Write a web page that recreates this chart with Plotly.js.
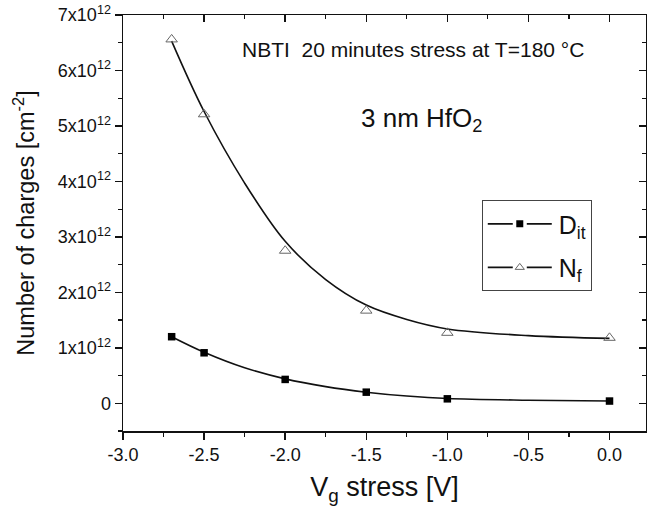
<!DOCTYPE html>
<html>
<head>
<meta charset="utf-8">
<script src="https://cdn.plot.ly/plotly-3.0.1.min.js"></script>
<style>html,body{margin:0;padding:0;background:#fff;}#chart{width:647px;height:510px;}</style>
</head>
<body>
<div id="chart"></div>
<script>
// Measured points
const vg = [-2.7, -2.5, -2.0, -1.5, -1.0, 0.0];
const dit = [1.20e12, 0.91e12, 0.43e12, 0.20e12, 0.08e12, 0.04e12];
const nf = [6.56e12, 5.21e12, 2.75e12, 1.67e12, 1.27e12, 1.18e12];

// Fitted curves
const fitX = [-2.7, -2.5, -2.25, -2.0, -1.75, -1.5, -1.25, -1.0, -0.5, 0.0];
const ditFit = [1.20e12, 0.92e12, 0.64e12, 0.44e12, 0.30e12, 0.20e12, 0.13e12, 0.085e12, 0.055e12, 0.04e12];
const nfFit = [6.53e12, 5.26e12, 3.97e12, 2.92e12, 2.23e12, 1.77e12, 1.51e12, 1.34e12, 1.22e12, 1.17e12];

// Tick labels
const xTickVals = [-3.0, -2.5, -2.0, -1.5, -1.0, -0.5, 0.0];
const xTickText = ['-3.0', '-2.5', '-2.0', '-1.5', '-1.0', '-0.5', '0.0'];
const yTickVals = [0, 1e12, 2e12, 3e12, 4e12, 5e12, 6e12, 7e12];
const yTickText = ['0', '1x10<sup>12</sup>', '2x10<sup>12</sup>', '3x10<sup>12</sup>', '4x10<sup>12</sup>', '5x10<sup>12</sup>', '6x10<sup>12</sup>', '7x10<sup>12</sup>'];

const seriesNames = ['D<sub>it</sub>', 'N<sub>f</sub>'];

const FONT = 'Arial, "Liberation Sans", sans-serif';
const xRange = [-3.0, 0.225];
const yRange = [-0.5e12, 7e12];

const traces = [
  {x: fitX, y: ditFit, mode: 'lines', line: {color: '#111', width: 1.6, shape: 'spline', smoothing: 1}, showlegend: false, hoverinfo: 'skip'},
  {x: fitX, y: nfFit, mode: 'lines', line: {color: '#111', width: 1.6, shape: 'spline', smoothing: 1}, showlegend: false, hoverinfo: 'skip'},
  {x: vg, y: dit, mode: 'markers', marker: {symbol: 'square', size: 7.5, color: '#000'}, showlegend: false},
  {x: vg, y: nf, mode: 'markers', marker: {symbol: 'triangle-up-open', size: 10, color: '#666', line: {width: 1}}, showlegend: false},
  {x: [null], y: [null], mode: 'lines+markers', name: seriesNames[0], legendgroup: 'a', line: {color: '#111', width: 1.6}, marker: {symbol: 'square', size: 7, color: '#000'}},
  {x: [null], y: [null], mode: 'lines+markers', name: seriesNames[1], legendgroup: 'b', line: {color: '#111', width: 1.6}, marker: {symbol: 'triangle-up-open', size: 8, color: '#666', line: {width: 1}}},
  {x: [null], y: [null], xaxis: 'x2', yaxis: 'y2', mode: 'markers', showlegend: false, hoverinfo: 'skip'}
];

const layout = {
  width: 647, height: 510,
  margin: {l: 123, r: 1, t: 15, b: 79},
  paper_bgcolor: '#fff', plot_bgcolor: '#fff',
  font: {family: FONT, color: '#111'},
  showlegend: true,
  legend: {
    x: 0.686, y: 0.555, xanchor: 'left', yanchor: 'top',
    bordercolor: '#444', borderwidth: 1, bgcolor: 'rgba(255,255,255,0)',
    font: {family: FONT, size: 25, color: '#111'},
    itemwidth: 66, tracegroupgap: 8
  },
  xaxis: {
    range: xRange, tickmode: 'array', tickvals: xTickVals, ticktext: xTickText,
    showgrid: false, zeroline: false, showline: true, linecolor: '#111', linewidth: 1.5,
    ticks: 'outside', ticklen: 7, tickwidth: 1.5, tickcolor: '#111',
    minor: {tickmode: 'linear', tick0: -3, dtick: 0.25, ticks: 'outside', ticklen: 4, tickwidth: 1.2, tickcolor: '#111', showgrid: false},
    tickfont: {family: FONT, size: 18, color: '#111'},
    title: {text: 'V<sub>g</sub> stress [V]', font: {family: FONT, size: 27, color: '#111'}, standoff: 13}
  },
  yaxis: {
    range: yRange, tickmode: 'array', tickvals: yTickVals, ticktext: yTickText,
    showgrid: false, zeroline: false, showline: true, linecolor: '#111', linewidth: 1.5,
    ticks: 'outside', ticklen: 7, tickwidth: 1.5, tickcolor: '#111',
    minor: {tickmode: 'linear', tick0: 0, dtick: 0.5e12, ticks: 'outside', ticklen: 4, tickwidth: 1.2, tickcolor: '#111', showgrid: false},
    tickfont: {family: FONT, size: 18, color: '#111'},
    title: {text: 'Number of charges [cm<sup>-2</sup>]', font: {family: FONT, size: 23.5, color: '#111'}, standoff: 16}
  },
  xaxis2: {
    overlaying: 'x', side: 'top', anchor: 'y2', range: xRange,
    tickmode: 'array', tickvals: xTickVals, showticklabels: false,
    showgrid: false, zeroline: false, showline: true, linecolor: '#111', linewidth: 1.5,
    ticks: 'inside', ticklen: 7, tickwidth: 1.5, tickcolor: '#111',
    minor: {tickmode: 'linear', tick0: -3, dtick: 0.25, ticks: 'inside', ticklen: 4, tickwidth: 1.2, tickcolor: '#111', showgrid: false}
  },
  yaxis2: {
    overlaying: 'y', side: 'right', anchor: 'x2', range: yRange,
    tickmode: 'array', tickvals: yTickVals, showticklabels: false,
    showgrid: false, zeroline: false, showline: true, linecolor: '#111', linewidth: 1.5,
    ticks: 'inside', ticklen: 7, tickwidth: 1.5, tickcolor: '#111',
    minor: {tickmode: 'linear', tick0: 0, dtick: 0.5e12, ticks: 'inside', ticklen: 4, tickwidth: 1.2, tickcolor: '#111', showgrid: false}
  },
  annotations: [
    {xref: 'paper', yref: 'paper', x: 0.223, y: 0.9165, xanchor: 'left', yanchor: 'middle', showarrow: false,
     text: 'NBTI  20 minutes stress at T=180 \u00B0C', font: {family: FONT, size: 21, color: '#111'}},
    {xref: 'paper', yref: 'paper', x: 0.452, y: 0.75, xanchor: 'left', yanchor: 'middle', showarrow: false,
     text: '3 nm HfO<sub>2</sub>', font: {family: FONT, size: 26, color: '#111'}}
  ]
};

Plotly.newPlot('chart', traces, layout, {staticPlot: true, displayModeBar: false}).then(function () {
  // widen legend glyphs: line - marker - line
  document.querySelectorAll('.legend .legendlines path').forEach(function (p) {
    p.setAttribute('d', 'M5,0h25m14,0h25');
  });
  document.querySelectorAll('.legend .legendpoints path.scatterpts').forEach(function (p) {
    p.setAttribute('transform', 'translate(37,0)');
  });
});
</script>
</body>
</html>
